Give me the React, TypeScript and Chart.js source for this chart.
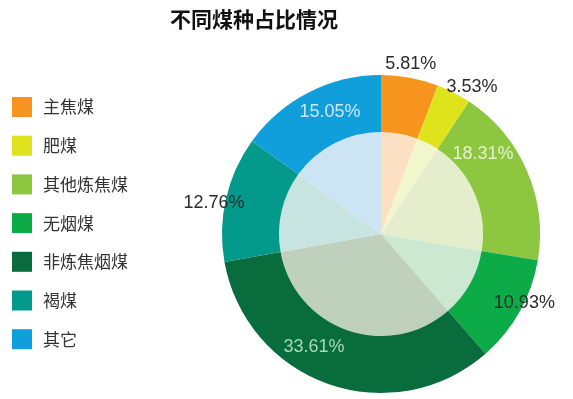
import React, { useEffect, useRef } from "react";
import { Chart, registerables } from "chart.js";

Chart.register(...registerables);

const TITLE = "不同煤种占比情况";
const categories = ["主焦煤", "肥煤", "其他炼焦煤", "无烟煤", "非炼焦烟煤", "褐煤", "其它"];
const shares = [5.81, 3.53, 18.31, 10.93, 33.61, 12.76, 15.05];
const valueLabels = ["5.81%", "3.53%", "18.31%", "10.93%", "33.61%", "12.76%", "15.05%"];

const outerColors = ["#f7941e", "#dfe31c", "#8dc63f", "#0cab48", "#086c3c", "#049a8b", "#109fda"];
const innerColors = ["#fde0c4", "#f2f6cd", "#e4eecd", "#cde8d0", "#bfd1bd", "#c8e4e0", "#cde4f5"];
const labelColors = ["#2b2b2b", "#2b2b2b", "#e6f2cf", "#2b2b2b", "#a9d9b9", "#2b2b2b", "#cde6f5"];

// label placement relative to each slice: radius factor and angular shift (degrees)
const labelRadius = [1.086, 1.087, 0.815, 1.0, 0.826, 1.068, 0.832];
const labelShift = [-0.5, 4.5, -14.7, -3.6, 11.3, -2.4, 4.4];

const decorPlugin = {
  id: "decor",
  afterDraw(chart: any) {
    const ctx = chart.ctx;
    ctx.save();
    // title
    ctx.fillStyle = "#111";
    ctx.font = "bold 21px 'Noto Sans CJK SC'";
    ctx.textAlign = "center";
    ctx.textBaseline = "middle";
    ctx.fillText(TITLE, 254, 19);

    // legend
    ctx.textAlign = "left";
    ctx.font = "17px 'Noto Sans CJK SC'";
    categories.forEach((c, i) => {
      const y = 97 + i * 38.7;
      ctx.fillStyle = outerColors[i];
      ctx.fillRect(12, y, 20, 20);
      ctx.fillStyle = "#333";
      ctx.fillText(c, 43, y + 10);
    });

    // value labels
    const meta = chart.getDatasetMeta(0);
    ctx.font = "18px 'Liberation Sans', Arial, sans-serif";
    ctx.textAlign = "center";
    meta.data.forEach((arc: any, i: number) => {
      const { startAngle, endAngle, outerRadius, x, y } = arc.getProps(
        ["startAngle", "endAngle", "outerRadius", "x", "y"],
        true
      );
      const a = (startAngle + endAngle) / 2 + (labelShift[i] * Math.PI) / 180;
      const r = outerRadius * labelRadius[i];
      ctx.fillStyle = labelColors[i];
      ctx.fillText(valueLabels[i], x + r * Math.cos(a), y + r * Math.sin(a));
    });
    ctx.restore();
  },
};

export default function App() {
  const ref = useRef<HTMLCanvasElement | null>(null);
  useEffect(() => {
    if (!ref.current) return;
    const chart = new Chart(ref.current, {
      type: "doughnut",
      data: {
        labels: categories,
        datasets: [
          {
            data: shares,
            backgroundColor: outerColors,
            borderWidth: 0,
            weight: 57,
          },
          {
            data: shares,
            backgroundColor: innerColors,
            borderWidth: 0,
            weight: 102,
          },
        ],
      },
      options: {
        animation: false,
        responsive: true,
        maintainAspectRatio: false,
        cutout: 0,
        layout: { padding: { left: 222, right: 33, top: 75, bottom: 6 } },
        plugins: {
          legend: { display: false },
          title: { display: false },
          tooltip: { enabled: false },
        },
      },
      plugins: [decorPlugin],
    });
    return () => chart.destroy();
  }, []);
  return (
    <div style={{ position: "fixed", left: 0, top: 0, width: 573, height: 399, background: "#fff" }}>
      <canvas ref={ref} />
    </div>
  );
}
